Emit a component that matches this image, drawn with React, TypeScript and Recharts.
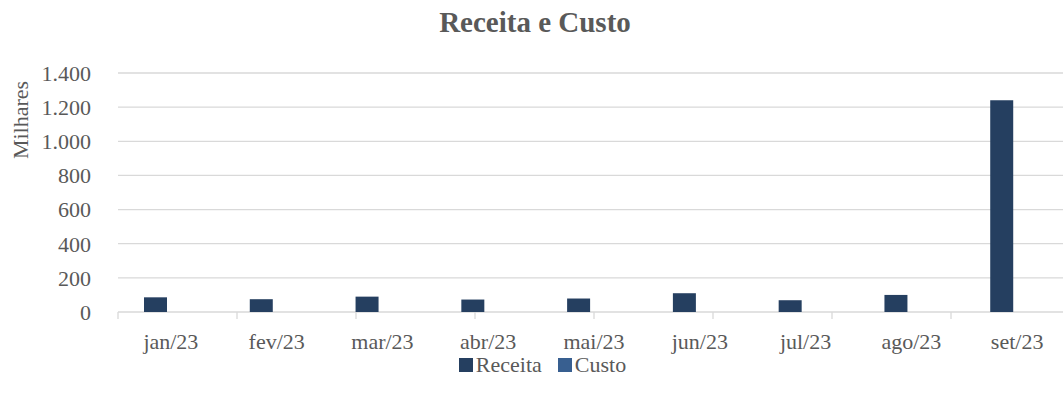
import React from 'react';
import { BarChart, Bar, XAxis, YAxis, CartesianGrid, Legend } from 'recharts';

const categories = ['jan/23', 'fev/23', 'mar/23', 'abr/23', 'mai/23', 'jun/23', 'jul/23', 'ago/23', 'set/23'];
const receita = [86, 75, 90, 73, 79, 110, 69, 100, 1240];
const custo = [0, 0, 0, 0, 0, 0, 0, 0, 0];
const yTicks = [0, 200, 400, 600, 800, 1000, 1200, 1400];
const boundaryTicks = [0, 1, 2, 3, 4, 5, 6, 7, 8, 9];

const seriesOrder = ['receita', 'custo'];
const seriesNames = { receita: 'Receita', custo: 'Custo' };
const colors = { receita: '#253f60', custo: '#385f90' };

const data = categories.map((c, i) => ({ mes: c, receita: receita[i], custo: custo[i] }));

const FONT = '"Liberation Serif", "Times New Roman", serif';
const TEXT = '#595959';
const GRID = '#d9d9d9';

const fmt = (v: number) => v.toLocaleString('de-DE');

const LegendContent = (props: any) => {
  const payload = [...(props.payload || [])].sort(
    (a: any, b: any) => seriesOrder.indexOf(a.dataKey) - seriesOrder.indexOf(b.dataKey)
  );
  return (
    <div style={{ display: 'flex', justifyContent: 'center', height: 28, lineHeight: '28px', fontFamily: FONT, fontSize: 22, color: TEXT }}>
      {payload.map((p: any, i: number) => (
        <div key={i} style={{ display: 'flex', alignItems: 'center', marginRight: i === 0 ? 16 : 0 }}>
          <span style={{ display: 'inline-block', width: 14, height: 14, background: p.color, marginRight: 3 }} />
          <span>{p.value}</span>
        </div>
      ))}
    </div>
  );
};

const YLabel = (props: any) => {
  const vb = props.viewBox || { x: 0, y: 0 };
  const x = vb.x + 28;
  const y = vb.y + 47;
  return (
    <text x={x} y={y} transform={`rotate(-90, ${x}, ${y})`} textAnchor="middle" fill={TEXT} fontFamily={FONT} fontSize={22}>
      Milhares
    </text>
  );
};

const NoTick = () => <g />;

export default function App() {
  return (
    <div style={{ position: 'absolute', left: 0, top: 0, width: 1063, height: 401, overflow: 'hidden', background: '#fff' }}>
      <div style={{ position: 'absolute', left: 0, top: 8, width: 1070, textAlign: 'center', fontFamily: FONT, fontSize: 29, fontWeight: 'bold', color: TEXT, lineHeight: '29px' }}>
        Receita e Custo
      </div>
      <BarChart
        width={1080}
        height={401}
        data={data}
        margin={{ top: 73, right: 10, left: 0, bottom: 33 }}
        barSize={23}
        barGap={8}
      >
        <CartesianGrid vertical={false} stroke={GRID} strokeWidth={1.3} />
        <XAxis
          type="number"
          domain={[0, 9]}
          ticks={boundaryTicks}
          interval={0}
          allowDataOverflow
          height={1}
          tick={NoTick}
          tickSize={7}
          tickLine={{ stroke: GRID, strokeWidth: 1.3 }}
          axisLine={false}
        />
        <XAxis
          xAxisId="cat"
          dataKey="mes"
          height={27}
          tickLine={false}
          tickSize={0}
          tickMargin={20}
          axisLine={false}
          tick={{ fill: TEXT, fontFamily: FONT, fontSize: 22 }}
          interval={0}
        />
        <YAxis
          width={118}
          domain={[0, 1400]}
          ticks={yTicks}
          interval={0}
          tickFormatter={fmt}
          axisLine={false}
          tickLine={false}
          tickSize={0}
          tickMargin={27}
          tick={{ fill: TEXT, fontFamily: FONT, fontSize: 22 }}
          label={{ content: YLabel }}
        />
        <Legend
          verticalAlign="bottom"
          content={LegendContent}
          wrapperStyle={{ top: 351, left: 0, width: 1085, height: 28 }}
        />
        <Bar xAxisId="cat" dataKey="receita" name={seriesNames.receita} fill={colors.receita} isAnimationActive={false} />
        <Bar xAxisId="cat" dataKey="custo" name={seriesNames.custo} fill={colors.custo} isAnimationActive={false} />
      </BarChart>
    </div>
  );
}
